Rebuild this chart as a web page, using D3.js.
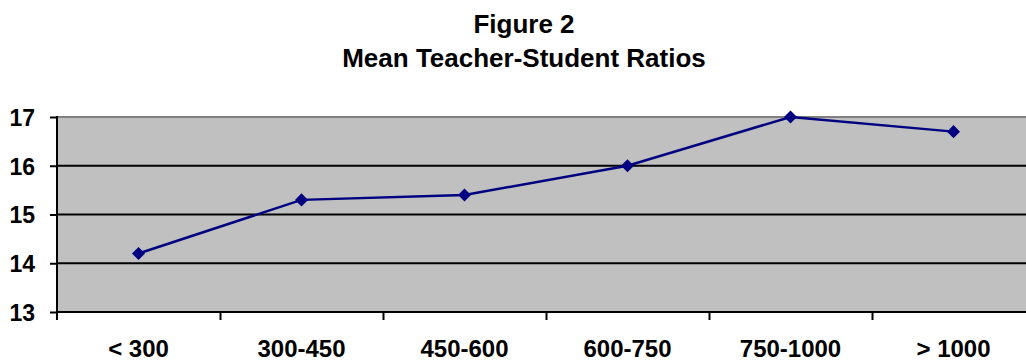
<!DOCTYPE html>
<html lang="en">
<head>
    <meta charset="UTF-8">
    <title>Figure 2</title>
    <script src="https://d3js.org/d3.v7.min.js"></script>
    <style>
        html,
        body {
            margin: 0;
            height: 100%;
            overflow: hidden;
            background: #fff;
        }
        text {
            font-family: "Liberation Sans", Arial, sans-serif;
            font-weight: bold;
        }
    </style>
</head>
<body>
    <svg id="svg"></svg>
    <script>
        const categories = ['< 300', '300-450', '450-600', '600-750', '750-1000', '> 1000'];
        const ratios = [14.2, 15.3, 15.4, 16.0, 17.0, 16.7];
        const yTicks = [13, 14, 15, 16, 17];

        const width = 1026;
        const height = 362;
        const svg = d3.select('#svg').attr('width', width).attr('height', height);

        const plotLeft = 57, plotTop = 117, plotBottom = 312;
        const bandW = 163;
        const plotRight = plotLeft + categories.length * bandW;

        const x = d3.scaleBand().domain(categories).range([plotLeft, plotRight]);
        const xTick = d3.scaleLinear().domain([0, categories.length]).range([plotLeft, plotRight]);
        const y = d3.scaleLinear().domain([13, 17]).range([plotBottom, plotTop]);

        // plot area
        svg.append('rect')
            .attr('x', plotLeft).attr('y', plotTop)
            .attr('width', plotRight - plotLeft).attr('height', plotBottom - plotTop)
            .attr('fill', '#c0c0c0');

        // grid lines
        svg.selectAll('.grid').data(yTicks.filter(d => d > 13 && d < 17)).join('line')
            .attr('class', 'grid')
            .attr('x1', plotLeft).attr('x2', plotRight)
            .attr('y1', d => y(d)).attr('y2', d => y(d))
            .attr('stroke', '#000').attr('stroke-width', 2);

        svg.append('line')
            .attr('x1', plotLeft).attr('x2', plotRight)
            .attr('y1', y(17)).attr('y2', y(17))
            .attr('stroke', '#808080').attr('stroke-width', 2);

        // y axis
        const yAxis = svg.append('g')
            .attr('transform', `translate(${plotLeft},0)`)
            .call(d3.axisLeft(y).tickValues(yTicks).tickFormat(d3.format('d')).tickSize(7).tickPadding(15));
        yAxis.select('.domain').attr('stroke', '#000').attr('stroke-width', 2).attr('d', `M0,${plotTop - 1}V${plotBottom + 8}`);
        yAxis.selectAll('.tick line').attr('stroke', '#000').attr('stroke-width', 2);
        yAxis.selectAll('text').attr('font-size', 23).attr('fill', '#000').attr('dy', '0.36em');

        // x axis ticks
        const xAxis = svg.append('g')
            .attr('transform', `translate(0,${plotBottom})`)
            .call(d3.axisBottom(xTick).ticks(categories.length).tickFormat('').tickSize(8));
        xAxis.select('.domain').attr('stroke', '#000').attr('stroke-width', 2).attr('d', `M${plotLeft},0H${plotRight}`);
        xAxis.selectAll('.tick line').attr('stroke', '#000').attr('stroke-width', 2);
        xAxis.selectAll('.tick').filter(d => d === 0).remove();

        // x labels
        const xLab = svg.append('g')
            .attr('transform', `translate(0,${plotBottom})`)
            .call(d3.axisBottom(x).tickSize(0).tickPadding(29));
        xLab.select('.domain').remove();
        xLab.selectAll('text').attr('font-size', 24).attr('fill', '#000').attr('dy', '0.68em');

        // line
        const line = d3.line()
            .x((d, i) => x(categories[i]) + x.bandwidth() / 2)
            .y(d => y(d));

        svg.append('path')
            .datum(ratios)
            .attr('d', line)
            .attr('fill', 'none')
            .attr('stroke', '#000080')
            .attr('stroke-width', 2.5);

        svg.selectAll('.pt').data(ratios).join('path')
            .attr('class', 'pt')
            .attr('d', d3.symbol(d3.symbolSquare, 85)())
            .attr('transform', (d, i) => `translate(${x(categories[i]) + x.bandwidth() / 2},${y(d)}) rotate(45)`)
            .attr('fill', '#000080');

        // title
        const title = svg.append('text')
            .attr('text-anchor', 'middle')
            .attr('font-size', 26)
            .attr('fill', '#000');
        title.append('tspan').attr('x', 524).attr('y', 33).text('Figure 2');
        title.append('tspan').attr('x', 524).attr('y', 67).text('Mean Teacher-Student Ratios');
    </script>
</body>
</html>
